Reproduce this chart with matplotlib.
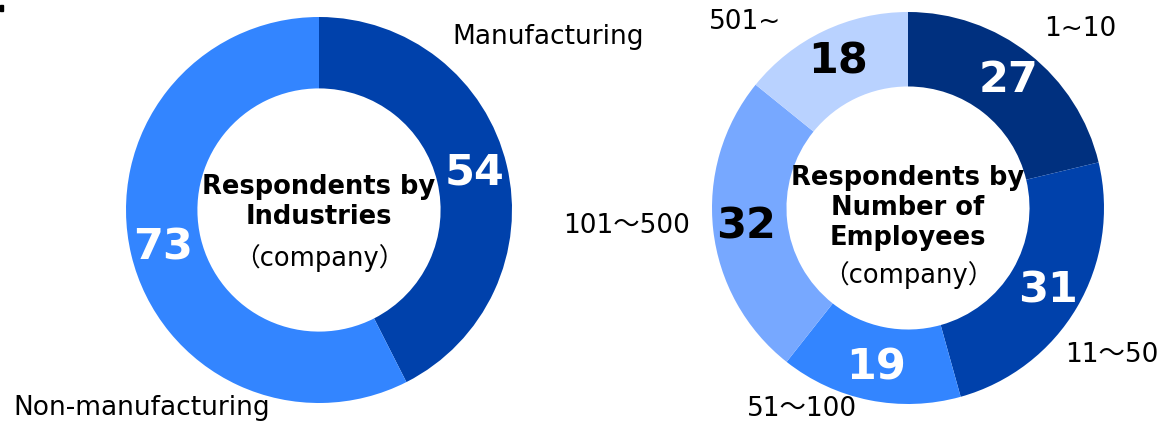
import numpy as np
import matplotlib.pyplot as plt

plt.rcParams['font.family'] = ['DejaVu Sans', 'Noto Sans CJK JP']

# 業種別
industry_labels = ['Manufacturing', 'Non-manufacturing']
industry_values = [54, 73]
industry_colors = ['#0041AB', '#3385FF']

# 従業員規模別
size_labels = ['1~10', '11～50', '51～100', '101～500', '501~']
size_values = [27, 31, 19, 32, 18]
size_colors = ['#00307F', '#0041AB', '#3385FF', '#77A8FF', '#B9D2FF']
size_text_colors = ['white', 'white', 'white', 'black', 'black']

W, H = 1176, 424
fig = plt.figure(figsize=(W / 100, H / 100), dpi=100)


def donut(cx, cy, r, values, colors, text_colors, hole):
    ax = fig.add_axes([(cx - r) / W, (H - cy - r) / H, 2 * r / W, 2 * r / H])
    wedges, _ = ax.pie(values, colors=colors, startangle=90, counterclock=False,
                       radius=1, wedgeprops=dict(width=1 - hole, linewidth=0))
    ax.set_xlim(-1, 1)
    ax.set_ylim(-1, 1)
    ax.set_aspect('equal')
    ax.axis('off')
    # 値ラベル（リング中央）
    rr = 0.83
    for w, v, tc in zip(wedges, values, text_colors):
        ang = np.deg2rad((w.theta1 + w.theta2) / 2)
        ax.text(rr * np.cos(ang), rr * np.sin(ang), str(v), ha='center', va='center',
                fontsize=31, fontweight='bold', color=tc)
    return ax


ax1 = donut(319, 210, 193, industry_values, industry_colors, ['white', 'white'], 0.63)
ax1.text(0, 0.04, 'Respondents by\nIndustries', ha='center', va='center',
         fontsize=18.5, fontweight='bold', linespacing=1.2)
ax1.text(0, -0.25, '（company）', ha='center', va='center', fontsize=18.5)

ax2 = donut(908, 208, 196, size_values, size_colors, size_text_colors, 0.62)
ax2.text(0, 0.0, 'Respondents by\nNumber of\nEmployees', ha='center', va='center',
         fontsize=18.5, fontweight='bold', linespacing=1.2)
ax2.text(0, -0.34, '（company）', ha='center', va='center', fontsize=18.5)

# カテゴリ名
label_pos = {
    'Manufacturing': (548, 37),
    'Non-manufacturing': (142, 408),
    '1~10': (1080, 29),
    '11～50': (1112, 355),
    '51～100': (802, 409),
    '101～500': (627, 226),
    '501~': (745, 22),
}
for name, (px, py) in label_pos.items():
    fig.text(px / W, 1 - py / H, name, ha='center', va='center', fontsize=19)

# 左上の小さな印
fig.patches.append(plt.Rectangle((0, 1 - 11 / H), 3 / W, 6 / H, transform=fig.transFigure,
                                 color='black', figure=fig))

fig.savefig('out.png', dpi=100, facecolor='white')
